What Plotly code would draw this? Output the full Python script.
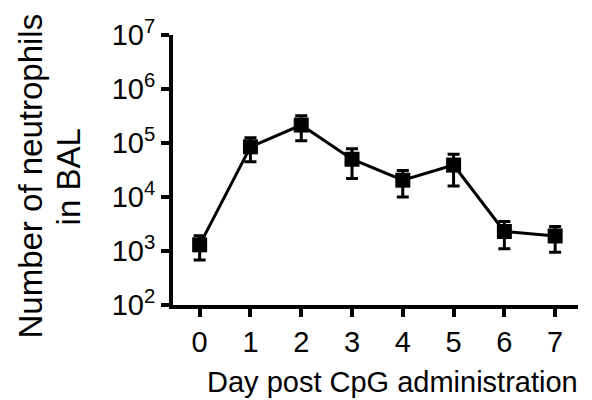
import plotly.graph_objects as go

days = [0, 1, 2, 3, 4, 5, 6, 7]
neutrophils = [1300, 85000, 215000, 50000, 20500, 39000, 2300, 1900]
sem = [620, 40000, 105000, 28000, 10500, 23000, 1200, 950]
x_tick_labels = ["0", "1", "2", "3", "4", "5", "6", "7"]
y_tick_vals = [1e2, 1e3, 1e4, 1e5, 1e6, 1e7]
y_tick_labels = ["10<sup>2</sup>", "10<sup>3</sup>", "10<sup>4</sup>",
                 "10<sup>5</sup>", "10<sup>6</sup>", "10<sup>7</sup>"]
x_title = "Day post CpG administration"
y_title_lines = ["Number of neutrophils", "in BAL"]

font_family = "Liberation Sans, Arial, Helvetica, sans-serif"

fig = go.Figure()
fig.add_trace(go.Scatter(
    x=days, y=neutrophils,
    mode="lines+markers",
    line=dict(color="black", width=3),
    marker=dict(symbol="square", size=15, color="black"),
    error_y=dict(type="data", array=sem, visible=True, color="black",
                 thickness=3, width=6),
    showlegend=False,
))

fig.update_layout(
    width=592, height=400,
    margin=dict(l=165, r=22, t=27, b=103, autoexpand=False),
    paper_bgcolor="white", plot_bgcolor="white",
    font=dict(family=font_family, color="black", size=29),
    xaxis=dict(
        range=[-0.525, 7.45],
        tickmode="array", tickvals=days, ticktext=x_tick_labels,
        showline=True, linecolor="black", linewidth=4,
        ticks="outside", ticklen=8, tickwidth=4, tickcolor="black",
        showgrid=False, zeroline=False,
        tickfont=dict(size=29),
        automargin=False,
    ),
    yaxis=dict(
        type="log", range=[2, 7],
        tickmode="array", tickvals=y_tick_vals, ticktext=y_tick_labels,
        showline=True, linecolor="black", linewidth=4,
        ticks="outside", ticklen=8, tickwidth=4, tickcolor="black",
        showgrid=False, zeroline=False,
        tickfont=dict(size=29),
        automargin=False,
    ),
    annotations=[
        dict(text=x_title, xref="paper", yref="paper", x=0.543, y=-0.285,
             xanchor="center", yanchor="middle", showarrow=False,
             font=dict(size=29)),
        dict(text=y_title_lines[0], xref="paper", yref="paper", x=-0.353, y=0.476,
             xanchor="center", yanchor="middle", showarrow=False,
             textangle=-90, font=dict(size=33)),
        dict(text=y_title_lines[1], xref="paper", yref="paper", x=-0.257, y=0.476,
             xanchor="center", yanchor="middle", showarrow=False,
             textangle=-90, font=dict(size=33)),
    ],
)

fig.write_html("out.html")
